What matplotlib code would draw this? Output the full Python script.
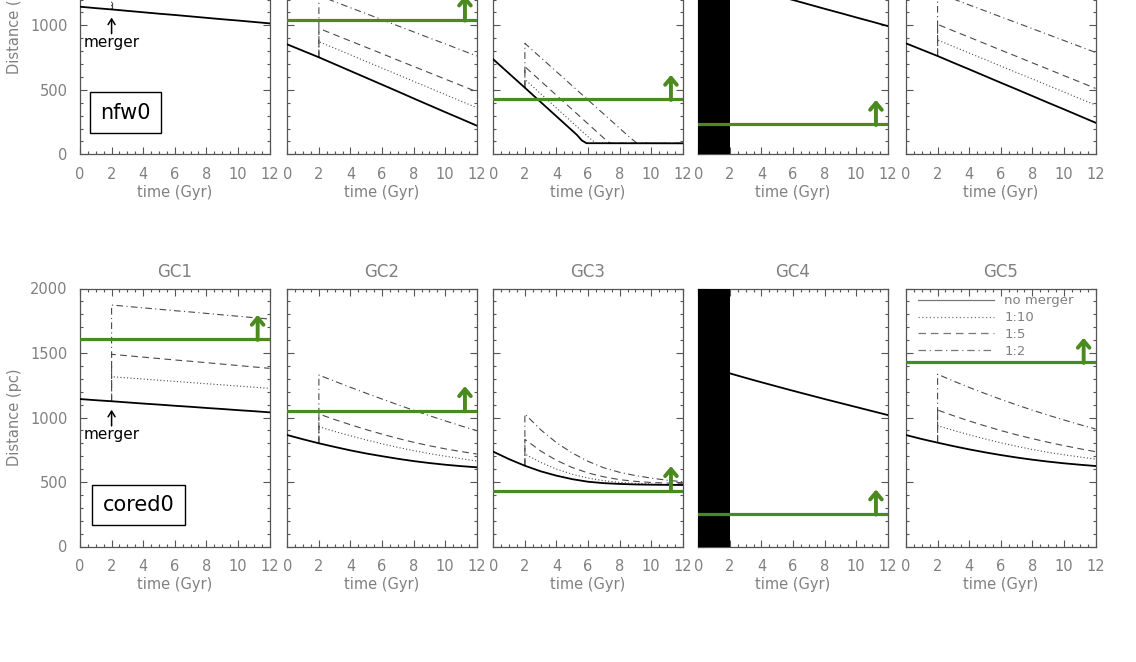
import numpy as np
import matplotlib
matplotlib.use("Agg")
import matplotlib.pyplot as plt
from matplotlib.lines import Line2D
from matplotlib.ticker import MultipleLocator

# ---------------- data ----------------
PANELS = ["GC1", "GC2", "GC3", "GC4", "GC5"]
MODELS = ["nfw0", "cored0"]
LEGEND_LABELS = ["no merger", "1:10", "1:5", "1:2"]

T_ALL = [0, 1, 2, 3, 4, 5, 6, 7, 8, 9, 10, 11, 12]
T_MERGE = [2, 3, 4, 5, 6, 7, 8, 9, 10, 11, 12]

# nfw0 (top row)
NFW_GC1_NM = [1144, 1133, 1123, 1112, 1101, 1090, 1080, 1069, 1058, 1047, 1037, 1026, 1015]
NFW_GC1_M10 = [1320, 1308, 1296, 1284, 1272, 1260, 1248, 1236, 1224, 1212, 1200]
NFW_GC1_M5 = [1490, 1478, 1466, 1454, 1442, 1430, 1418, 1406, 1394, 1382, 1370]
NFW_GC1_M2 = [1870, 1858, 1846, 1834, 1822, 1810, 1798, 1786, 1774, 1762, 1750]

NFW_GC2_NM = [852, 802, 752, 699, 646, 593, 540, 487, 433, 380, 327, 275, 222]
NFW_GC2_M10 = [873, 822, 771, 719, 668, 617, 566, 515, 463, 412, 361]
NFW_GC2_M5 = [976, 927, 878, 829, 780, 730, 681, 632, 583, 534, 485]
NFW_GC2_M2 = [1230, 1183, 1136, 1090, 1043, 996, 949, 902, 856, 809, 762]

NFW_GC3_T_NM = [0, 2, 5.3, 5.6, 5.9, 12]
NFW_GC3_NM = [736, 516, 150, 108, 86, 85]
NFW_GC3_T_M10 = [2, 6.1, 6.5, 12]
NFW_GC3_M10 = [581, 125, 86, 85]
NFW_GC3_T_M5 = [2, 7.0, 7.4, 12]
NFW_GC3_M5 = [679, 125, 86, 85]
NFW_GC3_T_M2 = [2, 8.7, 9.1, 12]
NFW_GC3_M2 = [860, 125, 86, 85]

NFW_GC4_NM = [1330, 1296, 1263, 1229, 1196, 1162, 1128, 1095, 1061, 1028, 994]

NFW_GC5_NM = [860, 811, 762, 710, 659, 607, 555, 504, 452, 400, 349, 297, 245]
NFW_GC5_M10 = [886, 836, 785, 735, 684, 634, 584, 533, 483, 432, 382]
NFW_GC5_M5 = [1007, 957, 908, 858, 808, 759, 709, 660, 610, 561, 511]
NFW_GC5_M2 = [1250, 1204, 1158, 1112, 1066, 1020, 974, 928, 882, 836, 790]

NFW_GREEN = [1606, 1041, 426, 232, 1428]

# cored0 (bottom row)
COR_GC1_NM = [1143, 1134, 1126, 1117, 1108, 1100, 1091, 1083, 1074, 1066, 1057, 1049, 1040]
COR_GC1_M10 = [1316, 1307, 1298, 1289, 1280, 1271, 1262, 1253, 1244, 1235, 1226]
COR_GC1_M5 = [1490, 1479, 1468, 1457, 1446, 1436, 1425, 1414, 1403, 1392, 1381]
COR_GC1_M2 = [1872, 1861, 1850, 1839, 1828, 1818, 1807, 1796, 1785, 1774, 1763]

COR_GC2_NM = [864, 831, 800, 772, 745, 721, 700, 680, 662, 647, 634, 623, 614]
COR_GC2_M10 = [929, 892, 858, 826, 796, 768, 743, 720, 700, 681, 663]
COR_GC2_M5 = [1027, 984, 944, 906, 871, 838, 808, 781, 757, 736, 717]
COR_GC2_M2 = [1329, 1281, 1234, 1188, 1143, 1099, 1056, 1014, 974, 935, 898]

COR_GC3_NM = [735, 677, 626, 583, 549, 522, 502, 491, 485, 481, 479, 478, 477]
COR_GC3_M10 = [717, 652, 600, 560, 530, 510, 497, 489, 484, 480, 478]
COR_GC3_M5 = [831, 740, 668, 612, 570, 540, 518, 505, 496, 492, 490]
COR_GC3_M2 = [1027, 905, 805, 725, 660, 610, 575, 550, 530, 514, 502]

COR_GC4_NM = [1342, 1307, 1273, 1240, 1207, 1175, 1143, 1112, 1081, 1050, 1019]

COR_GC5_NM = [864, 833, 805, 778, 753, 730, 709, 690, 673, 658, 645, 634, 624]
COR_GC5_M10 = [937, 900, 866, 834, 804, 777, 752, 730, 711, 694, 678]
COR_GC5_M5 = [1058, 1014, 973, 935, 899, 866, 836, 808, 782, 758, 735]
COR_GC5_M2 = [1335, 1283, 1233, 1186, 1141, 1098, 1057, 1018, 981, 945, 911]

COR_GREEN = [1606, 1053, 433, 252, 1428]

# black band (no data) for GC4 : time range
MASK_RANGE = [0, 2]
MERGER_TIME = 2
GREEN_ARROW_T = 11.25

ROWS = {
    "nfw0": [
        dict(nm=(T_ALL, NFW_GC1_NM), m10=(T_MERGE, NFW_GC1_M10), m5=(T_MERGE, NFW_GC1_M5), m2=(T_MERGE, NFW_GC1_M2)),
        dict(nm=(T_ALL, NFW_GC2_NM), m10=(T_MERGE, NFW_GC2_M10), m5=(T_MERGE, NFW_GC2_M5), m2=(T_MERGE, NFW_GC2_M2)),
        dict(nm=(NFW_GC3_T_NM, NFW_GC3_NM), m10=(NFW_GC3_T_M10, NFW_GC3_M10), m5=(NFW_GC3_T_M5, NFW_GC3_M5), m2=(NFW_GC3_T_M2, NFW_GC3_M2)),
        dict(nm=(T_MERGE, NFW_GC4_NM), m10=None, m5=None, m2=None),
        dict(nm=(T_ALL, NFW_GC5_NM), m10=(T_MERGE, NFW_GC5_M10), m5=(T_MERGE, NFW_GC5_M5), m2=(T_MERGE, NFW_GC5_M2)),
    ],
    "cored0": [
        dict(nm=(T_ALL, COR_GC1_NM), m10=(T_MERGE, COR_GC1_M10), m5=(T_MERGE, COR_GC1_M5), m2=(T_MERGE, COR_GC1_M2)),
        dict(nm=(T_ALL, COR_GC2_NM), m10=(T_MERGE, COR_GC2_M10), m5=(T_MERGE, COR_GC2_M5), m2=(T_MERGE, COR_GC2_M2)),
        dict(nm=(T_ALL, COR_GC3_NM), m10=(T_MERGE, COR_GC3_M10), m5=(T_MERGE, COR_GC3_M5), m2=(T_MERGE, COR_GC3_M2)),
        dict(nm=(T_MERGE, COR_GC4_NM), m10=None, m5=None, m2=None),
        dict(nm=(T_ALL, COR_GC5_NM), m10=(T_MERGE, COR_GC5_M10), m5=(T_MERGE, COR_GC5_M5), m2=(T_MERGE, COR_GC5_M2)),
    ],
}
GREENS = {"nfw0": NFW_GREEN, "cored0": COR_GREEN}

# ---------------- layout / style ----------------
W, H = 1136, 662
LEFTS = [80, 287.3, 493.3, 698.3, 906]
AX_W = 189.5
AX_H = 258
ROW_BOTTOM = {"nfw0": 154.3, "cored0": 546.5}

GREEN = "#4a8a1e"
GRAY_TXT = "#808080"
SPINE = "#555555"
MERGE_C = "#4a4a4a"

plt.rcParams["font.family"] = ["DejaVu Sans"]

fig = plt.figure(figsize=(W / 100, H / 100), dpi=100)

styles = {"m10": (0, (1, 2)), "m5": (0, (6, 4)), "m2": (0, (6, 3, 1, 3))}

for model in MODELS:
    for j, name in enumerate(PANELS):
        ax = fig.add_axes([LEFTS[j] / W, 1 - ROW_BOTTOM[model] / H, AX_W / W, AX_H / H])
        d = ROWS[model][j]
        ax.set_xlim(0, 12)
        ax.set_ylim(0, 2000)

        if d["m10"] is None:
            ax.axvspan(MASK_RANGE[0], MASK_RANGE[1], color="black", zorder=5, lw=0)

        tn, vn = d["nm"]
        ax.plot(tn, vn, color="black", lw=1.3, zorder=3)
        v_at_merger = np.interp(MERGER_TIME, tn, vn)
        for key in ["m10", "m5", "m2"]:
            if d[key] is None:
                continue
            tm, vm = d[key]
            ax.plot([MERGER_TIME] + list(tm), [v_at_merger] + list(vm),
                    color=MERGE_C, lw=0.8, ls=styles[key], zorder=2)

        g = GREENS[model][j]
        ax.axhline(g, color=GREEN, lw=2.3, zorder=6)
        ax.annotate("", xy=(GREEN_ARROW_T, g + 190), xytext=(GREEN_ARROW_T, g - 5),
                    arrowprops=dict(arrowstyle="->,head_length=0.5,head_width=0.42",
                                    color=GREEN, lw=2.8, shrinkA=0, shrinkB=0),
                    zorder=7)

        # axes style
        ax.xaxis.set_major_locator(MultipleLocator(2))
        ax.xaxis.set_minor_locator(MultipleLocator(0.5))
        ax.yaxis.set_major_locator(MultipleLocator(500))
        ax.yaxis.set_minor_locator(MultipleLocator(100))
        ax.tick_params(which="both", direction="in", top=True, right=True,
                       color=SPINE, width=0.8, labelcolor=GRAY_TXT, labelsize=10.5)
        ax.tick_params(which="major", length=5, pad=9)
        ax.tick_params(which="minor", length=2.5)
        for s in ax.spines.values():
            s.set_color(SPINE)
            s.set_linewidth(0.9)
        if j > 0:
            ax.tick_params(labelleft=False)
        else:
            ax.set_ylabel("Distance (pc)", color=GRAY_TXT, fontsize=10.5, labelpad=6)
        ax.set_xlabel("time (Gyr)", color=GRAY_TXT, fontsize=10.5, labelpad=2)
        ax.set_title(name, color=GRAY_TXT, fontsize=12, pad=8)

        if j == 0:
            ax.annotate("", xy=(MERGER_TIME, 1060), xytext=(MERGER_TIME, 935),
                        arrowprops=dict(arrowstyle="->,head_length=0.4,head_width=0.25",
                                        color="black", lw=1.1, shrinkA=0, shrinkB=0))
            ax.text(MERGER_TIME, 870, "merger", ha="center", va="center", fontsize=11, color="black")
            ax.text(3.7 if model == "cored0" else 2.9, 322, model, ha="center", va="center",
                    fontsize=15, color="black",
                    bbox=dict(boxstyle="square,pad=0.5", fc="white", ec="black", lw=1.0))

        if model == "cored0" and j == 4:
            handles = [Line2D([], [], color="#777777", lw=0.9, ls="-"),
                       Line2D([], [], color="#777777", lw=0.9, ls=styles["m10"]),
                       Line2D([], [], color="#777777", lw=0.9, ls=styles["m5"]),
                       Line2D([], [], color="#777777", lw=0.9, ls=styles["m2"])]
            ax.legend(handles, LEGEND_LABELS, loc="upper left", bbox_to_anchor=(0.063, 0.978),
                      frameon=False, fontsize=9.5, labelcolor=GRAY_TXT, handlelength=5.8,
                      handletextpad=0.75, labelspacing=0.3, borderpad=0, borderaxespad=0)

fig.savefig("out.png", dpi=100)
